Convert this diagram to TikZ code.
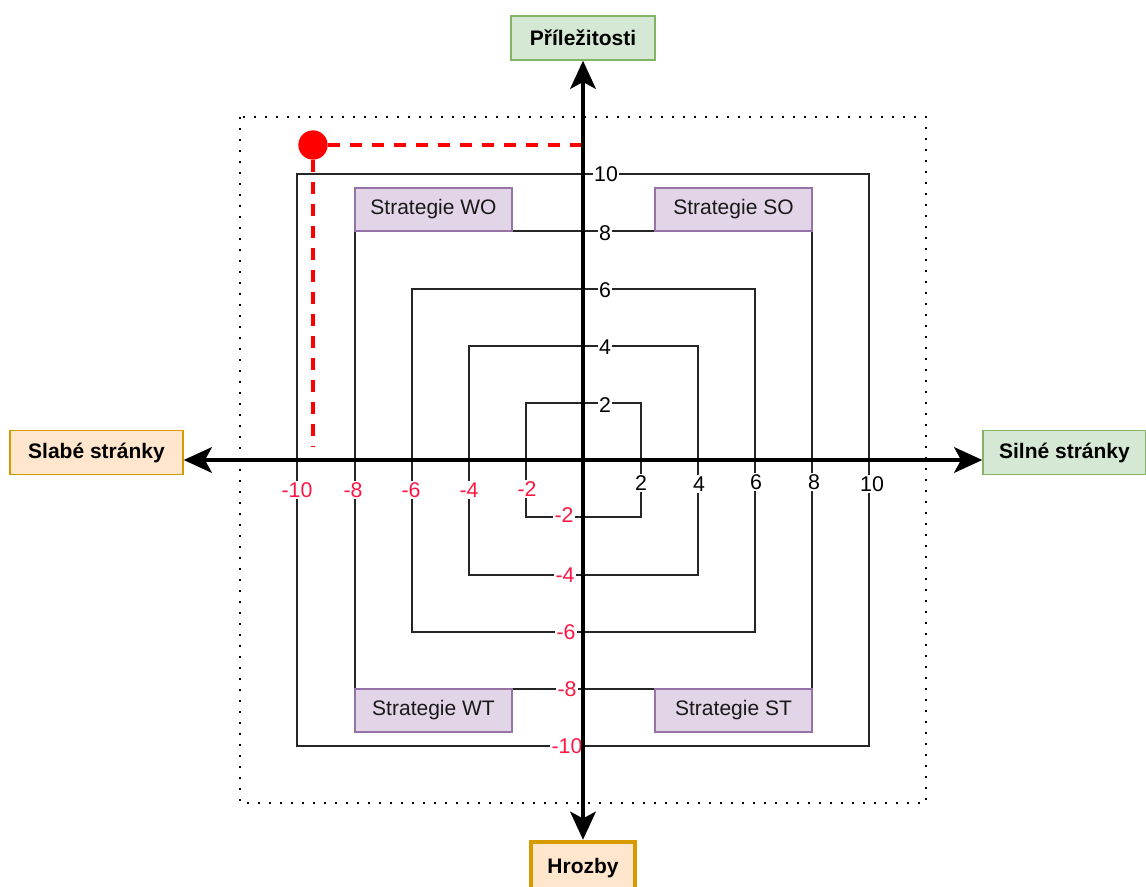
\documentclass[tikz,border=0pt]{standalone}
\usepackage{fontspec}
\setmainfont{Liberation Sans}
\usetikzlibrary{arrows.meta}
\definecolor{grfill}{HTML}{D5E8D4}
\definecolor{grline}{HTML}{82B366}
\definecolor{orfill}{HTML}{FFE6CC}
\definecolor{orline}{HTML}{D79B00}
\definecolor{pufill}{HTML}{E1D5E7}
\definecolor{puline}{HTML}{9673A6}
\definecolor{negred}{HTML}{FF1744}
\definecolor{dotred}{HTML}{FF0000}
\begin{document}
\begin{tikzpicture}[x=0.75pt,y=-0.75pt,
  lab/.style={draw, line width=1pt, font=\fontsize{15.75}{18}\selectfont\bfseries, inner sep=0pt, minimum height=33pt},
  greenbox/.style={lab, fill=grfill, draw=grline},
  orangebox/.style={lab, fill=orfill, draw=orline},
  strat/.style={draw=puline, fill=pufill, line width=0.8pt, minimum width=117.75pt, minimum height=32.25pt, inner sep=0pt, font=\fontsize{15.75}{18}\selectfont, text=black!90},
  tick/.style={fill=white, inner sep=1pt, font=\fontsize{16}{18}\selectfont},
  ntick/.style={tick, text=negred},
  sq/.style={draw=black!85, line width=1.1pt},
  axisline/.style={line width=3.6pt, {Stealth[length=21pt,width=19pt,inset=5pt]}-{Stealth[length=21pt,width=19pt,inset=5pt]}},
  reddash/.style={draw=dotred, line width=3pt, dash pattern=on 9pt off 7.5pt},
  dotframe/.style={draw=black, line width=1.7pt, dash pattern=on 1.7pt off 6.55pt}
]
\useasboundingbox (0,0) rectangle (1146,886);
\fill[white] (0,0) rectangle (1146,886);

% dotted frame
\draw[dotframe] (240,117) rectangle (926,803);

% squares
\draw[sq] (297,174) rectangle (869,746);
\draw[sq] (355,231) rectangle (812,689);
\draw[sq] (412,289) rectangle (755,632);
\draw[sq] (469,346) rectangle (698,575);
\draw[sq] (526,403) rectangle (641,517);

% strategy boxes
\node[strat] (wo) at (433.5,209.5) {Strategie WO};
\node[strat] (so) at (733.5,209.5) {Strategie SO};
\node[strat] (wt) at (433.5,710.5) {Strategie WT};
\node[strat] (st) at (733.5,710.5) {Strategie ST};

% tick labels, vertical axis
\node[tick] (y10) at (606,174) {10};
\node[tick] (y8) at (605,233) {8};
\node[tick] (y6) at (605,290) {6};
\node[tick] (y4) at (605,347) {4};
\node[tick] (y2) at (605,405) {2};
\node[ntick] (ym2) at (564,515) {-2};
\node[ntick] (ym4) at (565,575) {-4};
\node[ntick] (ym6) at (566,632) {-6};
\node[ntick] (ym8) at (567,689) {-8};
\node[ntick] (ym10) at (567,746) {-10};

% tick labels, horizontal axis
\node[tick] (x2) at (641,483) {2};
\node[tick] (x4) at (699,484) {4};
\node[tick] (x6) at (756,482) {6};
\node[tick] (x8) at (814,482) {8};
\node[tick] (x10) at (872,484) {10};
\node[ntick] (xm10) at (297,490) {-10};
\node[ntick] (xm8) at (353,490) {-8};
\node[ntick] (xm6) at (411,490) {-6};
\node[ntick] (xm4) at (469,490) {-4};
\node[ntick] (xm2) at (527,489) {-2};

% red point with dashed projections
\node[circle, fill=dotred, inner sep=0pt, minimum size=22pt] (pt) at (313,145) {};
\coordinate (ph) at (583,145);
\coordinate (pv) at (313,447);
\draw[reddash] (pt.east) -- (ph);
\draw[reddash] (pt.south) -- (pv);

% axis end boxes
\node[greenbox, minimum width=108pt] (pri) at (583,38) {Příležitosti};
\node[orangebox, minimum width=78pt, minimum height=39pt, line width=3.3pt] (hro) at (583,868) {Hrozby};
\node[orangebox, minimum width=129.75pt] (sla) at (96.5,452.5) {Slabé stránky};
\node[greenbox, minimum width=122.25pt] (sil) at (1064.5,452.5) {Silné stránky};

% axes
\coordinate (o) at (583,460);
\draw[axisline] (hro.north) -- (pri.south);
\draw[axisline] (sla.east |- o) -- (sil.west |- o);
\end{tikzpicture}
\end{document}
